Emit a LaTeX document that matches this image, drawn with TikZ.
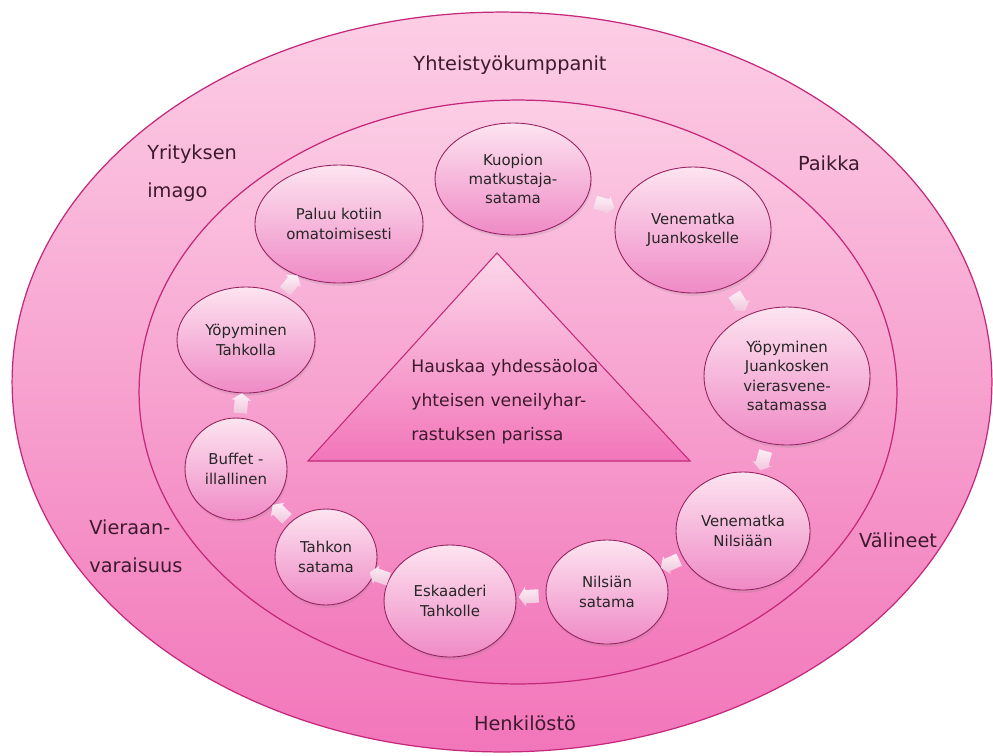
\documentclass[tikz,border=0pt]{standalone}
\usepackage{fontspec}
\setmainfont{DejaVu Sans}
\usetikzlibrary{shapes.geometric,shapes.arrows,shadows}
\definecolor{ringline}{RGB}{196,40,122}
\definecolor{ringtop}{RGB}{252,206,229}
\definecolor{ringbottom}{RGB}{242,118,186}
\definecolor{stagetop}{RGB}{253,228,240}
\definecolor{stagebottom}{RGB}{239,138,198}
\definecolor{stageline}{RGB}{150,34,96}
\definecolor{flowtop}{RGB}{254,244,249}
\definecolor{flowbottom}{RGB}{240,200,222}
\definecolor{labeltext}{RGB}{62,26,46}
\begin{document}
\begin{tikzpicture}[x=0.02cm,y=-0.02cm,
	stage/.style={ellipse,draw=stageline,line width=0.5pt,top color=stagetop,bottom color=stagebottom,inner sep=0pt,align=center,text=black!85,font=\fontsize{8.5}{11}\selectfont,drop shadow={opacity=0.18,shadow xshift=0.6pt,shadow yshift=-1.6pt}},
	chevron/.style={single arrow,single arrow head extend=1.8pt,single arrow tip angle=110,minimum height=0.4cm,inner xsep=0pt,inner ysep=3.6pt,top color=flowtop,bottom color=flowbottom,draw=none,opacity=0.95,sloped,allow upside down,midway},
	ringlabel/.style={text=labeltext,font=\fontsize{11}{21.5}\selectfont,align=left,inner sep=0pt}]
	\useasboundingbox (0,0) rectangle (993,755);
	\draw[ringline,line width=0.7pt,top color=ringtop,bottom color=ringbottom] (502,382) ellipse [x radius=9.8cm,y radius=7.4cm];
	\draw[ringline,line width=0.7pt,top color=ringtop,bottom color=ringbottom] (518,392) ellipse [x radius=7.58cm,y radius=5.84cm];
	\draw[ringline,line width=0.6pt,top color=ringtop!80!white,bottom color=ringbottom] (497,253) -- (690,461) -- (308,461) -- cycle;
	
	\node[ringlabel] (yhteistyo) at (510,65) {Yhteistyökumppanit};
	\node[ringlabel,anchor=west] (yritys) at (147,173) {Yrityksen\\imago};
	\node[ringlabel] (paikka) at (829,163) {Paikka};
	\node[ringlabel,anchor=west] (vieraan) at (89,546) {Vieraan-\\varaisuus};
	\node[ringlabel] (valineet) at (898,540) {Välineet};
	\node[ringlabel] (henkilosto) at (525,723) {Henkilöstö};
	\node[ringlabel,anchor=west,font=\fontsize{9.8}{19.3}\selectfont] (tavoite) at (411,402) {Hauskaa yhdessäoloa\\yhteisen veneilyhar-\\rastuksen parissa};
	
	\node[stage,minimum width=3.12cm,minimum height=2.24cm] (kuopio) at (513,179) {Kuopion\\matkustaja-\\satama};
	\node[stage,minimum width=3.12cm,minimum height=2.52cm] (juankoski) at (693,230) {Venematka\\Juankoskelle};
	\node[stage,minimum width=3.32cm,minimum height=2.76cm] (yopjuan) at (787,376) {Yöpyminen\\Juankosken\\vierasvene-\\satamassa};
	\node[stage,minimum width=2.68cm,minimum height=2.36cm] (nilsiaan) at (743,531) {Venematka\\Nilsiään};
	\node[stage,minimum width=2.44cm,minimum height=2.08cm] (nilsiansatama) at (607,592) {Nilsiän\\satama};
	\node[stage,minimum width=2.64cm,minimum height=2.24cm] (eskaaderi) at (450,601) {Eskaaderi\\Tahkolle};
	\node[stage,minimum width=2.04cm,minimum height=1.92cm] (tahkonsatama) at (326,557) {Tahkon\\satama};
	\node[stage,minimum width=2.04cm,minimum height=2.04cm] (buffet) at (236,469) {Buffet -\\illallinen};
	\node[stage,minimum width=2.76cm,minimum height=2.12cm] (yoptahko) at (246,340) {Yöpyminen\\Tahkolla};
	\node[stage,minimum width=3.36cm,minimum height=2.36cm] (paluu) at (339,224) {Paluu kotiin\\omatoimisesti};
	
	\path (kuopio) -- node[chevron] (f1) {} (juankoski);
	\path (juankoski) -- node[chevron] (f2) {} (yopjuan);
	\path (yopjuan) -- node[chevron] (f3) {} (nilsiaan);
	\path (nilsiaan) -- node[chevron] (f4) {} (nilsiansatama);
	\path (nilsiansatama) -- node[chevron] (f5) {} (eskaaderi);
	\path (eskaaderi) -- node[chevron] (f6) {} (tahkonsatama);
	\path (tahkonsatama) -- node[chevron] (f7) {} (buffet);
	\path (buffet) -- node[chevron] (f8) {} (yoptahko);
	\path (yoptahko) -- node[chevron] (f9) {} (paluu);
\end{tikzpicture}
\end{document}
